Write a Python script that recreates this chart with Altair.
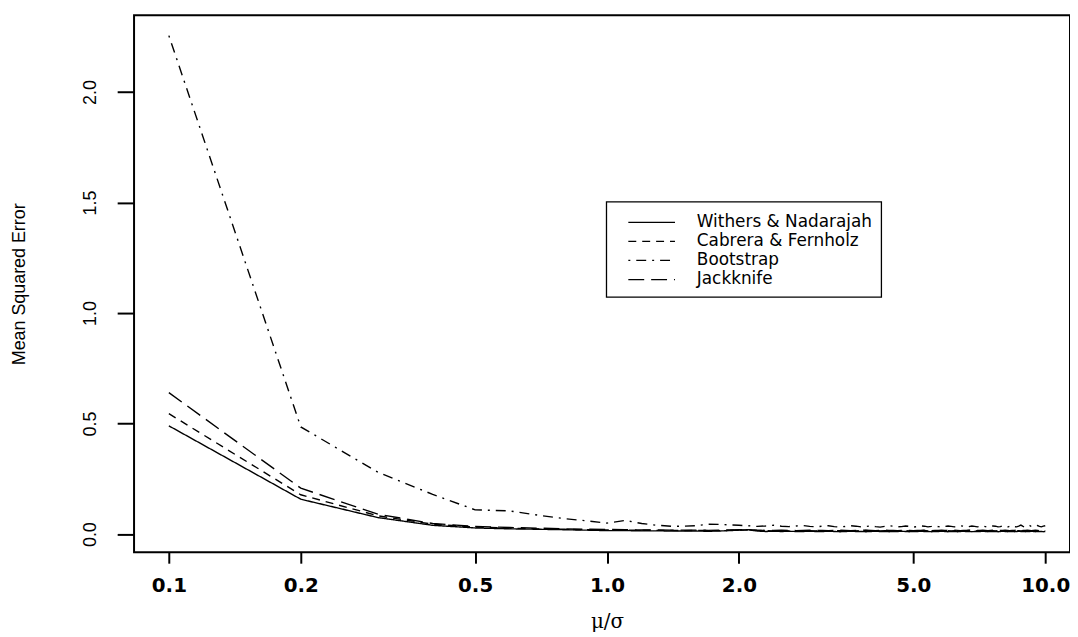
import altair as alt
import pandas as pd

# ---- data ----
series_names = ["Withers & Nadarajah", "Cabrera & Fernholz", "Bootstrap", "Jackknife"]

mu_sigma = [round(0.1 * i, 1) for i in range(1, 101)]

withers = [0.490, 0.158, 0.075, 0.040, 0.028, 0.024, 0.022, 0.020, 0.018, 0.016,
           0.016, 0.015, 0.015, 0.014, 0.014, 0.014, 0.013, 0.014, 0.016, 0.018,
           0.020, 0.014, 0.012, 0.013, 0.012, 0.013, 0.012, 0.012, 0.013, 0.012,
           0.012, 0.013, 0.012, 0.011, 0.012, 0.013, 0.012, 0.012, 0.011, 0.012,
           0.013, 0.012, 0.012, 0.011, 0.012, 0.012, 0.013, 0.012, 0.011, 0.012,
           0.012, 0.013, 0.012, 0.012, 0.011, 0.012, 0.012, 0.013, 0.012, 0.011,
           0.012, 0.012, 0.011, 0.012, 0.013, 0.012, 0.012, 0.011, 0.012, 0.012,
           0.012, 0.013, 0.012, 0.011, 0.012, 0.012, 0.012, 0.011, 0.012, 0.013,
           0.012, 0.011, 0.012, 0.012, 0.011, 0.012, 0.013, 0.012, 0.012, 0.011,
           0.012, 0.012, 0.013, 0.012, 0.011, 0.012, 0.012, 0.012, 0.011, 0.012]

cabrera = [0.545, 0.178, 0.083, 0.045, 0.032, 0.027, 0.024, 0.022, 0.020, 0.019,
           0.018, 0.018, 0.017, 0.017, 0.016, 0.017, 0.016, 0.016, 0.017, 0.018,
           0.019, 0.017, 0.016, 0.015, 0.016, 0.015, 0.016, 0.015, 0.016, 0.015,
           0.016, 0.015, 0.016, 0.016, 0.015, 0.016, 0.015, 0.016, 0.017, 0.015,
           0.016, 0.015, 0.016, 0.015, 0.016, 0.016, 0.015, 0.016, 0.015, 0.016,
           0.015, 0.016, 0.017, 0.015, 0.016, 0.015, 0.016, 0.015, 0.016, 0.016,
           0.015, 0.016, 0.015, 0.016, 0.015, 0.016, 0.017, 0.015, 0.016, 0.015,
           0.016, 0.015, 0.016, 0.016, 0.015, 0.016, 0.015, 0.016, 0.015, 0.016,
           0.016, 0.015, 0.016, 0.015, 0.017, 0.015, 0.016, 0.015, 0.016, 0.016,
           0.015, 0.016, 0.015, 0.016, 0.015, 0.016, 0.016, 0.015, 0.016, 0.015]

bootstrap = [2.255, 0.485, 0.280, 0.180, 0.110, 0.105, 0.085, 0.070, 0.060, 0.050,
             0.062, 0.048, 0.040, 0.036, 0.036, 0.038, 0.045, 0.044, 0.042, 0.040,
             0.038, 0.035, 0.037, 0.040, 0.036, 0.034, 0.037, 0.039, 0.035, 0.033,
             0.036, 0.038, 0.034, 0.032, 0.035, 0.038, 0.036, 0.033, 0.035, 0.037,
             0.034, 0.032, 0.035, 0.038, 0.036, 0.033, 0.034, 0.037, 0.035, 0.032,
             0.034, 0.037, 0.036, 0.033, 0.035, 0.038, 0.034, 0.032, 0.035, 0.037,
             0.035, 0.033, 0.034, 0.038, 0.036, 0.032, 0.034, 0.037, 0.035, 0.033,
             0.036, 0.038, 0.034, 0.032, 0.035, 0.037, 0.036, 0.033, 0.034, 0.038,
             0.035, 0.032, 0.036, 0.039, 0.034, 0.033, 0.036, 0.041, 0.035, 0.032,
             0.036, 0.040, 0.034, 0.033, 0.037, 0.039, 0.035, 0.033, 0.036, 0.038]

jackknife = [0.640, 0.208, 0.090, 0.048, 0.035, 0.030, 0.027, 0.024, 0.022, 0.021,
             0.020, 0.019, 0.019, 0.018, 0.018, 0.018, 0.017, 0.018, 0.019, 0.020,
             0.020, 0.018, 0.017, 0.017, 0.018, 0.017, 0.016, 0.017, 0.018, 0.017,
             0.017, 0.016, 0.017, 0.018, 0.017, 0.016, 0.017, 0.017, 0.018, 0.017,
             0.016, 0.017, 0.018, 0.017, 0.017, 0.016, 0.017, 0.018, 0.017, 0.016,
             0.017, 0.017, 0.018, 0.017, 0.016, 0.017, 0.017, 0.018, 0.017, 0.016,
             0.017, 0.018, 0.017, 0.016, 0.017, 0.017, 0.018, 0.017, 0.016, 0.017,
             0.017, 0.018, 0.017, 0.016, 0.017, 0.018, 0.017, 0.016, 0.017, 0.017,
             0.018, 0.017, 0.016, 0.017, 0.017, 0.018, 0.017, 0.016, 0.017, 0.017,
             0.018, 0.017, 0.016, 0.017, 0.018, 0.017, 0.016, 0.017, 0.017, 0.017]

x_ticks = [0.1, 0.2, 0.5, 1.0, 2.0, 5.0, 10.0]
y_ticks = [0.0, 0.5, 1.0, 1.5, 2.0]

# ---- styles ----
dash_styles = [[1, 0], [8, 6], [2, 6, 10, 6], [16, 7]]
values_by_series = [withers, cabrera, bootstrap, jackknife]

rows = []
for name, vals in zip(series_names, values_by_series):
    for xv, yv in zip(mu_sigma, vals):
        rows.append({"series": name, "mu": xv, "mse": yv})
df = pd.DataFrame(rows)

W, H = 943, 541
x_scale = alt.Scale(type="log", domain=[0.08328, 11.39], nice=False)
y_scale = alt.Scale(domain=[-0.082, 2.347], nice=False, zero=False)

lines = alt.Chart(df).mark_line(strokeWidth=1.4, color="black", clip=True).encode(
    x=alt.X("mu:Q", scale=x_scale,
            axis=alt.Axis(values=x_ticks, format=".1f", title="μ/σ", grid=False, domain=False,
                          tickSize=11, tickWidth=2, tickColor="black",
                          labelFont="DejaVu Sans", labelFontWeight="bold", labelFontSize=20,
                          labelColor="black", labelPadding=13, labelFlush=False,
                          titleFont="DejaVu Serif", titleFontSize=20, titleFontWeight="normal",
                          titleColor="black", titleX=476.5, titleY=70, titleBaseline="middle",
                          titleAnchor="start", titleAlign="center")),
    y=alt.Y("mse:Q", scale=y_scale,
            axis=alt.Axis(values=y_ticks, format=".1f", title="Mean Squared Error", grid=False,
                          domain=False, tickSize=17, tickWidth=2, tickColor="black",
                          labelFont="Liberation Sans", labelFontSize=18,
                          labelColor="black", labelAngle=-90, labelAlign="center",
                          labelBaseline="bottom", labelPadding=18, labelFlush=False,
                          titleFont="Liberation Sans", titleFontSize=18,
                          titleFontWeight="normal", titleColor="black", titleAngle=-90,
                          titleX=-115, titleY=270.5, titleAlign="center", titleBaseline="middle",
                          titleAnchor="start")),
    strokeDash=alt.StrokeDash("series:N", scale=alt.Scale(domain=series_names, range=dash_styles),
                              legend=None),
)

# ---- legend box drawn by hand ----
lx0, lx1, ly0, ly1 = 476, 753, 188, 284
row_y = [208.7, 227.8, 247.0, 266.2]
legend_layers = [
    alt.Chart(pd.DataFrame({"a": [0]})).mark_rect(fill="white", stroke="black", strokeWidth=1.3).encode(
        x=alt.value(lx0), x2=alt.value(lx1), y=alt.value(ly0), y2=alt.value(ly1))
]
for name, dash, ry in zip(series_names, dash_styles, row_y):
    legend_layers.append(
        alt.Chart(pd.DataFrame({"series": [name]})).mark_rule(
            color="black", strokeWidth=1.3, strokeDash=dash).encode(
            x=alt.value(498), x2=alt.value(545), y=alt.value(ry))
    )
    legend_layers.append(
        alt.Chart(pd.DataFrame({"series": [name]})).mark_text(
            align="left", baseline="middle", font="DejaVu Sans", fontSize=17, color="black").encode(
            x=alt.value(567), y=alt.value(ry), text="series:N")
    )

chart = alt.layer(lines, *legend_layers).properties(
    width=W, height=H,
    background="white",
    autosize=alt.AutoSizeParams(type="none"),
    padding={"left": 127, "top": 5, "right": 0, "bottom": 83},
).configure_view(stroke="black", strokeWidth=2)

chart.save("out.html", embed_options={"renderer": "svg", "actions": False})
